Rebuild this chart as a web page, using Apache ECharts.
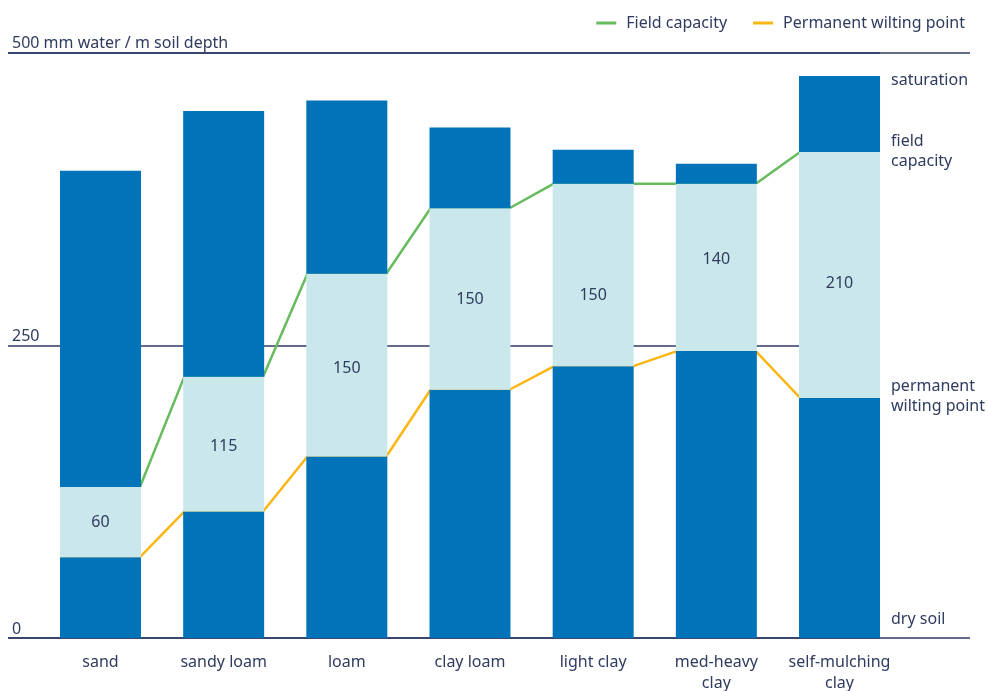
<!DOCTYPE html>
<html>
<head>
<meta charset="utf-8">
<script src="https://cdn.jsdelivr.net/npm/echarts@6/dist/echarts.min.js"></script>
<style>
  html, body { margin: 0; padding: 0; background: #ffffff; }
  #chart { width: 988px; height: 691px; }
</style>
</head>
<body>
<div id="chart"></div>
<script>
// ---- data ----
var categories = ['sand', 'sandy loam', 'loam', 'clay loam', 'light clay', 'med-heavy\nclay', 'self-mulching\nclay'];
var saturation = [399, 450, 459, 436, 417, 405, 480];
var fieldCapacity = [129, 223, 311, 367, 388, 388, 415];
var wiltingPoint = [69, 108, 155, 212, 232, 245, 205];
var availableLabels = [60, 115, 150, 150, 150, 140, 210];
var yTicks = [0, 250, 500];
var yTickLabels = ['0', '250', '500 mm water / m soil depth'];
var legendNames = ['Field capacity', 'Permanent wilting point'];
var rightNotes = ['saturation', 'field\ncapacity', 'permanent\nwilting point', 'dry soil'];

// ---- styles ----
var DARK = '#0073b9';
var LIGHT = '#cae8ec';
var GREEN = '#66bb5d';
var YELLOW = '#fbb614';
var TEXT = '#2f3b5f';
var RULE = '#2e3a62';
var FONT = 'Noto Sans';
var BAR_W = 81;
var HALF = 0.32; // half bar width in category units (lines end just inside bar edges)
var LABEL_SHIFT = [0, 2, 3, 0, 20, -8, 8]; // vertical nudge (px) of the in-bar labels

function middle(i) { return fieldCapacity[i] - wiltingPoint[i]; }
function topPart(i) { return saturation[i] - fieldCapacity[i]; }
function edgeLine(arr) {
  var pts = [];
  arr.forEach(function (v, i) { pts.push([i - HALF, v]); pts.push([i + HALF, v]); });
  return pts;
}
var last = categories.length - 1;
var NOTE_X = last + 0.3288;
var noteData = [
  { name: rightNotes[0], value: [NOTE_X, saturation[last]], label: { offset: [0, 5] } },
  { name: rightNotes[1], value: [NOTE_X, fieldCapacity[last]], label: { offset: [0, -1] } },
  { name: rightNotes[2], value: [NOTE_X, wiltingPoint[last]], label: { offset: [0, -2] } },
  { name: rightNotes[3], value: [NOTE_X, 0], label: { offset: [0, -19] } }
];

function tickLabel(v) {
  var k = yTicks.indexOf(v);
  return k >= 0 ? yTickLabels[k] : '';
}

var gridBase = { top: 52.5, bottom: 53, outerBoundsMode: 'none', containLabel: false };

var chart = echarts.init(document.getElementById('chart'));
chart.setOption({
  animation: false,
  textStyle: { fontFamily: FONT },
  legend: {
    data: legendNames,
    right: 18, top: 10,
    icon: 'rect', itemWidth: 20, itemHeight: 3, itemGap: 26,
    textStyle: { fontSize: 16, color: TEXT, fontFamily: FONT, padding: [0, 0, 0, 5] }
  },
  grid: [
    Object.assign({ left: 38.9, right: 86.9 }, gridBase),
    Object.assign({ left: 8, right: 18 }, gridBase),
    Object.assign({ left: 8, right: 108 }, gridBase)
  ],
  xAxis: [
    { gridIndex: 0, type: 'category', data: categories,
      axisLine: { show: false }, axisTick: { show: false },
      axisLabel: { margin: 14, fontSize: 16, lineHeight: 21, color: TEXT, fontFamily: FONT, interval: 0 } },
    { gridIndex: 0, type: 'value', min: -0.5, max: 6.5, show: false },
    { gridIndex: 1, type: 'value', min: 0, max: 1, show: false },
    { gridIndex: 2, type: 'value', min: 0, max: 1, show: false }
  ],
  yAxis: [
    { gridIndex: 0, type: 'value', min: 0, max: 500, show: false },
    { gridIndex: 1, type: 'value', min: 0, max: 500, interval: 500,
      axisLine: { show: false }, axisTick: { show: false },
      splitLine: { show: true, lineStyle: { color: RULE, width: 1.5 } },
      axisLabel: { inside: true, margin: 4, verticalAlign: 'bottom', padding: [0, 0, 1, 0],
        fontSize: 16, color: TEXT, fontFamily: FONT,
        formatter: function (v) { return v === 250 ? '' : tickLabel(v); } } },
    { gridIndex: 2, type: 'value', min: 0, max: 500, interval: 250,
      axisLine: { show: false }, axisTick: { show: false },
      splitLine: { show: true, lineStyle: { color: RULE, width: 1.5 } },
      axisLabel: { inside: true, margin: 4, verticalAlign: 'bottom', padding: [0, 0, 1, 0],
        fontSize: 16, color: TEXT, fontFamily: FONT,
        formatter: function (v) { return v === 250 ? tickLabel(v) : ''; } } }
  ],
  series: [
    { name: 'dry', type: 'bar', stack: 'soil', xAxisIndex: 0, yAxisIndex: 0, barWidth: BAR_W, z: 3,
      itemStyle: { color: DARK }, data: wiltingPoint },
    { name: 'available', type: 'bar', stack: 'soil', xAxisIndex: 0, yAxisIndex: 0, barWidth: BAR_W, z: 3,
      itemStyle: { color: LIGHT },
      label: { show: true, position: 'inside', fontSize: 16, color: TEXT, fontFamily: FONT,
        formatter: function (p) { return String(availableLabels[p.dataIndex]); } },
      data: categories.map(function (c, i) {
        return { value: middle(i), label: { offset: [0, LABEL_SHIFT[i]] } };
      }) },
    { name: 'drainage', type: 'bar', stack: 'soil', xAxisIndex: 0, yAxisIndex: 0, barWidth: BAR_W, z: 3,
      itemStyle: { color: DARK }, data: categories.map(function (c, i) { return topPart(i); }) },
    { name: legendNames[0], type: 'line', xAxisIndex: 1, yAxisIndex: 0, z: 2,
      symbol: 'none', color: GREEN, lineStyle: { color: GREEN, width: 2.5 },
      data: edgeLine(fieldCapacity) },
    { name: legendNames[1], type: 'line', xAxisIndex: 1, yAxisIndex: 0, z: 2,
      symbol: 'none', color: YELLOW, lineStyle: { color: YELLOW, width: 2.5 },
      data: edgeLine(wiltingPoint) },
    { name: 'notes', type: 'scatter', xAxisIndex: 1, yAxisIndex: 0, symbolSize: 0, z: 4,
      silent: true, itemStyle: { opacity: 1 },
      label: { show: true, position: 'right', distance: 11, fontSize: 16, lineHeight: 20,
        color: TEXT, fontFamily: FONT, align: 'left',
        formatter: function (p) { return p.name; } },
      data: noteData }
  ]
});
</script>
</body>
</html>
